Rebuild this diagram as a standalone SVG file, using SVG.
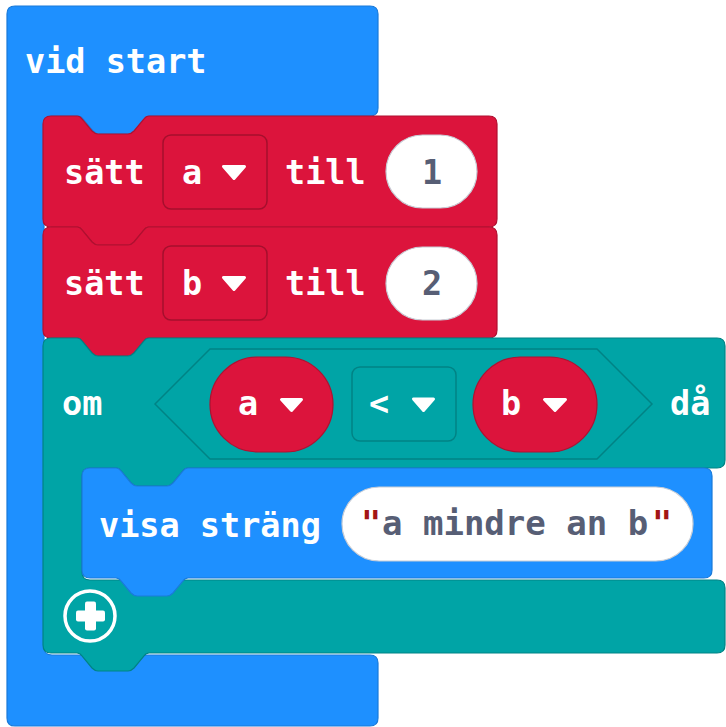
<svg xmlns="http://www.w3.org/2000/svg" width="726" height="727" viewBox="0 0 726 727">
<style>
.t{font-family:"DejaVu Sans Mono","Liberation Mono",monospace;font-weight:bold;font-size:33.5px;fill:#fff}
.g{fill:#575E75}
.q{fill:#A31515}
.blue{fill:#1E90FF;stroke:#1A7AD9;stroke-width:1.2}
.red{fill:#DC143C;stroke:#B01030;stroke-width:1.2}
.teal{fill:#00A4A6;stroke:#008385;stroke-width:1.2}
.dd-red{fill:#DC143C;stroke:#A50F2D;stroke-width:1.5}
.dd-teal{fill:#00A4A6;stroke:#008385;stroke-width:1.5}
.oval{fill:#fff;stroke:#C8CDD6;stroke-width:1.2}
.tri{fill:#fff;stroke:#fff;stroke-width:3;stroke-linejoin:round}
</style>
<rect width="726" height="727" fill="#fff"/>
<g id="vid-start">
<path class="blue" d="M7,14 Q7,6 15,6 H370 Q378,6 378,14 V108 Q378,116 370,116 H150 q-3,0 -5,3 l-10,12 q-3,3 -6,3 h-30 q-3,0 -6,-3 l-10,-12 q-2,-3 -5,-3 H52 Q44,116 44,124 V647 Q44,655 52,655 H370 Q378,655 378,663 V718 Q378,726 370,726 H15 Q7,726 7,718 Z"/>
<text class="t" x="25" y="73">vid start</text>
</g>
<g id="satt-a">
<path class="red" d="M43,124 Q43,116 51,116 H77 q3,0 5,3 l10,12 q3,3 6,3 h30 q3,0 6,-3 l10,-12 q2,-3 5,-3 H489 Q497,116 497,124 V219 Q497,227 489,227 H149 q-3,0 -5,3 l-10,12 q-3,3 -6,3 h-30 q-3,0 -6,-3 l-10,-12 q-2,-3 -5,-3 H51 Q43,227 43,219 Z"/>
<text class="t" x="64" y="184">sätt</text>
<rect class="dd-red" x="163" y="135" width="104" height="74" rx="8"/>
<text class="t" x="182" y="184">a</text>
<polygon class="tri" points="223.5,166.5 244.5,166.5 234,178.5"/>
<text class="t" x="285" y="184">till</text>
<rect class="oval" x="386" y="135" width="91" height="73" rx="36.5"/>
<text class="t g" x="432" y="184" text-anchor="middle">1</text>
</g>
<g id="satt-b">
<path class="red" d="M43,235 Q43,227 51,227 H77 q3,0 5,3 l10,12 q3,3 6,3 h30 q3,0 6,-3 l10,-12 q2,-3 5,-3 H489 Q497,227 497,235 V330 Q497,338 489,338 H149 q-3,0 -5,3 l-10,12 q-3,3 -6,3 h-30 q-3,0 -6,-3 l-10,-12 q-2,-3 -5,-3 H51 Q43,338 43,330 Z"/>
<text class="t" x="64" y="295">sätt</text>
<rect class="dd-red" x="163" y="246" width="104" height="74" rx="8"/>
<text class="t" x="182" y="295">b</text>
<polygon class="tri" points="223.5,277.5 244.5,277.5 234,289.5"/>
<text class="t" x="285" y="295">till</text>
<rect class="oval" x="386" y="247" width="91" height="73" rx="36.5"/>
<text class="t g" x="432" y="295" text-anchor="middle">2</text>
</g>
<g id="om-da">
<path class="teal" d="M43,346 Q43,338 51,338 H77 q3,0 5,3 l10,12 q3,3 6,3 h30 q3,0 6,-3 l10,-12 q2,-3 5,-3 H717 Q725,338 725,346 V460 Q725,468 717,468 H188 q-3,0 -5,3 l-10,12 q-3,3 -6,3 h-30 q-3,0 -6,-3 l-10,-12 q-2,-3 -5,-3 H90 Q82,468 82,476 V572 Q82,580 90,580 H717 Q725,580 725,588 V645 Q725,653 717,653 H149 q-3,0 -5,3 l-10,12 q-3,3 -6,3 h-30 q-3,0 -6,-3 l-10,-12 q-2,-3 -5,-3 H51 Q43,653 43,645 Z"/>
<text class="t" x="62" y="415">om</text>
<path class="dd-teal" d="M155,404 L210,349 H597 L652,404 L597,459 H210 Z"/>
<rect class="red" x="210" y="357" width="123" height="95" rx="47.5"/>
<text class="t" x="238" y="415">a</text>
<polygon class="tri" points="281.5,399.5 301.5,399.5 291.5,410.5"/>
<rect class="dd-teal" x="352" y="367" width="104" height="74" rx="8"/>
<text class="t" x="369" y="415">&lt;</text>
<polygon class="tri" points="413.5,399 433.5,399 423.5,410.5"/>
<rect class="red" x="473" y="357" width="124" height="95" rx="47.5"/>
<text class="t" x="501" y="415">b</text>
<polygon class="tri" points="544.5,399.5 565.5,399.5 555,410.5"/>
<text class="t" x="670" y="415">då</text>
<g id="plus">
<circle cx="90" cy="616" r="25" fill="none" stroke="#fff" stroke-width="3.5"/>
<rect x="76" y="610.5" width="29" height="11" rx="2" fill="#fff"/>
<rect x="85" y="601.5" width="11" height="29" rx="2" fill="#fff"/>
</g>
</g>
<g id="visa-strang">
<path class="blue" d="M82,476 Q82,468 90,468 H116 q3,0 5,3 l10,12 q3,3 6,3 h30 q3,0 6,-3 l10,-12 q2,-3 5,-3 H704 Q712,468 712,476 V570 Q712,578 704,578 H188 q-3,0 -5,3 l-10,12 q-3,3 -6,3 h-30 q-3,0 -6,-3 l-10,-12 q-2,-3 -5,-3 H90 Q82,578 82,570 Z"/>
<text class="t" x="99" y="537">visa sträng</text>
<rect class="oval" x="342" y="487" width="351" height="74" rx="37" stroke="#1873CC"/>
<text class="t q" x="361" y="535">"</text>
<text class="t g" x="382" y="535" style="font-size:34px">a mindre an b</text>
<text class="t q" x="652" y="535">"</text>
</g>
<g id="connectors"/>
</svg>
